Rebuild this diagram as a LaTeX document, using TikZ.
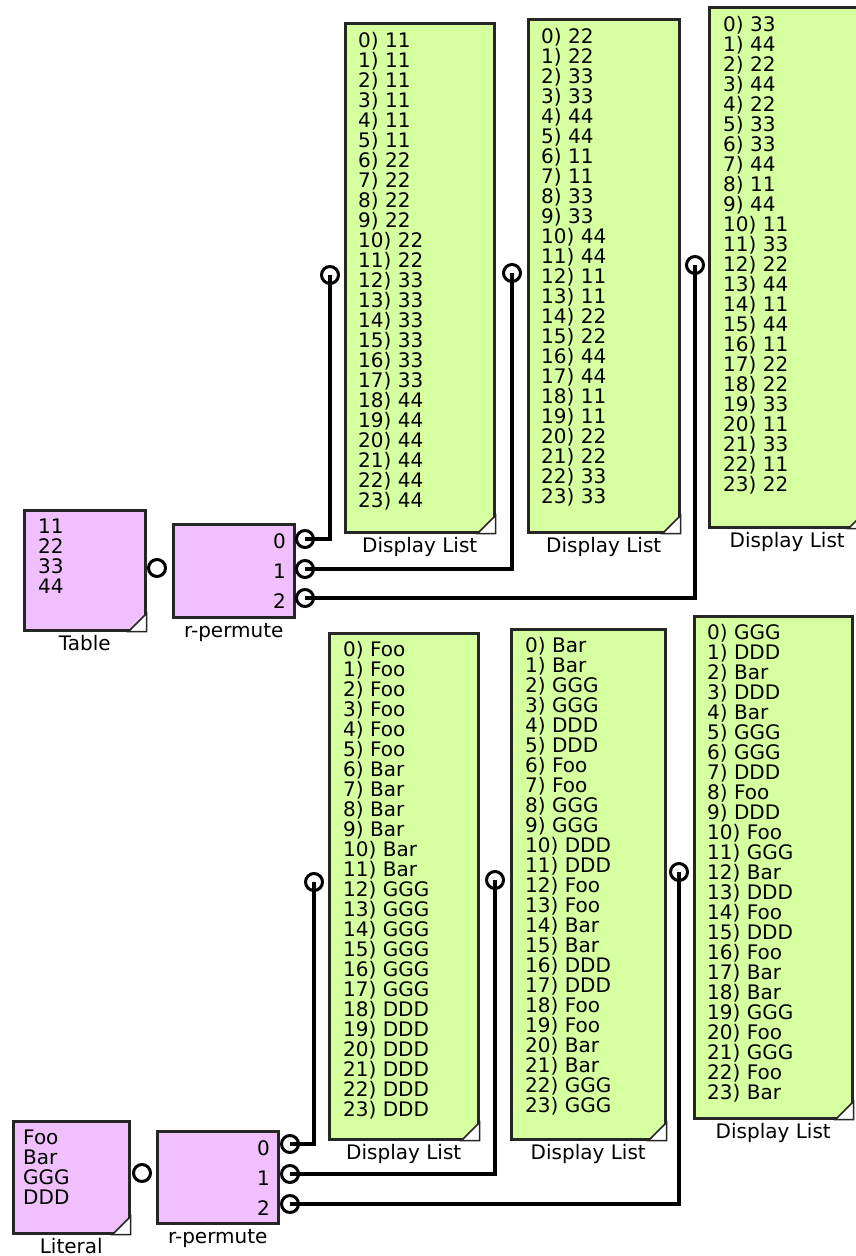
\documentclass[tikz,border=0pt]{standalone}
\usepackage{fontspec}
\setmainfont{DejaVu Sans}
\usetikzlibrary{positioning, calc}
\definecolor{blockpink}{RGB}{240,192,252}
\definecolor{listgreen}{RGB}{214,255,160}
\newcommand{\dogear}[1]{\filldraw[corner] ($(#1.south east)+(-18,0)$) -- ($(#1.south east)+(0,-18)$) -- (#1.south east) -- cycle;}

\begin{document}
\begin{tikzpicture}[x=1pt, y=-1pt, node distance=5pt]
    % Styles
    \tikzstyle{block} = [rectangle, draw=black!85, line width=2.5pt, fill=blockpink, inner sep=0pt, anchor=north west]
    \tikzstyle{listbox} = [rectangle, draw=black!85, line width=2.5pt, fill=listgreen, inner sep=0pt, anchor=north west]
    \tikzstyle{listtext} = [anchor=north west, inner sep=0pt, align=left, font=\fontsize{20}{20}\selectfont]
    \tikzstyle{caption} = [inner sep=0pt, text height=14pt, text depth=3pt, font=\fontsize{20}{22}\selectfont]
    \tikzstyle{portnum} = [anchor=east, inner sep=0pt, font=\fontsize{20}{20}\selectfont]
    \tikzstyle{port} = [circle, draw, line width=3pt, fill=white, minimum size=17pt, inner sep=0pt]
    \tikzstyle{wire} = [line width=3.5pt]
    \tikzstyle{corner} = [fill=white, draw=black!85, line width=1.5pt]

    \useasboundingbox (0,0) rectangle (855,1256);

    % Upper blocks
    \node [block, minimum width=121pt, minimum height=120pt] (table) at (23,509) {};
    \node [listtext] (tabletext) at ($(table.north west)+(15,10)$) {11\\22\\33\\44};
    \node [caption, below=of table] (tablelabel) {Table};
    \node [block, minimum width=121pt, minimum height=93pt] (perma) at (172,523) {};
    \node [caption, below=of perma] (permalabel) {r-permute};
    \node [portnum] (numa0) at (286,541) {0};
    \node [portnum] (numa1) at (286,571) {1};
    \node [portnum] (numa2) at (286,601) {2};

    \node [listbox, minimum width=149pt, minimum height=509pt] (lista) at (344,22) {};
    \node [listtext] (listatext) at ($(lista.north west)+(14,10)$) {0) 11\\1) 11\\2) 11\\3) 11\\4) 11\\5) 11\\6) 22\\7) 22\\8) 22\\9) 22\\10) 22\\11) 22\\12) 33\\13) 33\\14) 33\\15) 33\\16) 33\\17) 33\\18) 44\\19) 44\\20) 44\\21) 44\\22) 44\\23) 44};
    \node [caption, below=of lista] (listalabel) {Display List};
    \node [listbox, minimum width=151pt, minimum height=513pt] (listb) at (527,18) {};
    \node [listtext] (listbtext) at ($(listb.north west)+(14,10)$) {0) 22\\1) 22\\2) 33\\3) 33\\4) 44\\5) 44\\6) 11\\7) 11\\8) 33\\9) 33\\10) 44\\11) 44\\12) 11\\13) 11\\14) 22\\15) 22\\16) 44\\17) 44\\18) 11\\19) 11\\20) 22\\21) 22\\22) 33\\23) 33};
    \node [caption, below=of listb] (listblabel) {Display List};
    \node [listbox, minimum width=156pt, minimum height=520pt] (listc) at (708,6) {};
    \node [listtext] (listctext) at ($(listc.north west)+(15,10)$) {0) 33\\1) 44\\2) 22\\3) 44\\4) 22\\5) 33\\6) 33\\7) 44\\8) 11\\9) 44\\10) 11\\11) 33\\12) 22\\13) 44\\14) 11\\15) 44\\16) 11\\17) 22\\18) 22\\19) 33\\20) 11\\21) 33\\22) 11\\23) 22};
    \node [caption, below=of listc] (listclabel) {Display List};

    % Lower blocks
    \node [block, minimum width=116pt, minimum height=112pt] (literal) at (12,1120) {};
    \node [listtext] (literaltext) at ($(literal.north west)+(11,10)$) {Foo\\Bar\\GGG\\DDD};
    \node [caption, below=of literal] (literallabel) {Literal};
    \node [block, minimum width=121pt, minimum height=92pt] (permb) at (156,1130) {};
    \node [caption, below=of permb] (permblabel) {r-permute};
    \node [portnum] (numb0) at (270,1148) {0};
    \node [portnum] (numb1) at (270,1178) {1};
    \node [portnum] (numb2) at (270,1208) {2};

    \node [listbox, minimum width=149pt, minimum height=506pt] (listd) at (328,632) {};
    \node [listtext] (listdtext) at ($(listd.north west)+(15,9)$) {0) Foo\\1) Foo\\2) Foo\\3) Foo\\4) Foo\\5) Foo\\6) Bar\\7) Bar\\8) Bar\\9) Bar\\10) Bar\\11) Bar\\12) GGG\\13) GGG\\14) GGG\\15) GGG\\16) GGG\\17) GGG\\18) DDD\\19) DDD\\20) DDD\\21) DDD\\22) DDD\\23) DDD};
    \node [caption, below=of listd] (listdlabel) {Display List};
    \node [listbox, minimum width=154pt, minimum height=510pt] (liste) at (510,628) {};
    \node [listtext] (listetext) at ($(liste.north west)+(15,9)$) {0) Bar\\1) Bar\\2) GGG\\3) GGG\\4) DDD\\5) DDD\\6) Foo\\7) Foo\\8) GGG\\9) GGG\\10) DDD\\11) DDD\\12) Foo\\13) Foo\\14) Bar\\15) Bar\\16) DDD\\17) DDD\\18) Foo\\19) Foo\\20) Bar\\21) Bar\\22) GGG\\23) GGG};
    \node [caption, below=of liste] (listelabel) {Display List};
    \node [listbox, minimum width=158pt, minimum height=502pt] (listf) at (693,615) {};
    \node [listtext] (listftext) at ($(listf.north west)+(14,9)$) {0) GGG\\1) DDD\\2) Bar\\3) DDD\\4) Bar\\5) GGG\\6) GGG\\7) DDD\\8) Foo\\9) DDD\\10) Foo\\11) GGG\\12) Bar\\13) DDD\\14) Foo\\15) DDD\\16) Foo\\17) Bar\\18) Bar\\19) GGG\\20) Foo\\21) GGG\\22) Foo\\23) Bar};
    \node [caption, below=of listf] (listflabel) {Display List};

    % Corners
    \dogear{table} \dogear{lista} \dogear{listb} \dogear{listc}
    \dogear{literal} \dogear{listd} \dogear{liste} \dogear{listf}

    % Ports
    \node [port] (tableout) at (157,568) {};
    \node [port] (outa0) at (305,539) {};
    \node [port] (outa1) at (305,569) {};
    \node [port] (outa2) at (305,598) {};
    \node [port] (ina) at (330,275) {};
    \node [port] (inb) at (512,273) {};
    \node [port] (inc) at (695,265) {};
    \node [port] (literalout) at (142,1173) {};
    \node [port] (outb0) at (290,1144) {};
    \node [port] (outb1) at (290,1174) {};
    \node [port] (outb2) at (290,1204) {};
    \node [port] (ind) at (314,882) {};
    \node [port] (ine) at (495,880) {};
    \node [port] (inf) at (679,872) {};

    % Wires
    \draw [wire] (outa0.center) -| (ina.center);
    \draw [wire] (outa1.center) -| (inb.center);
    \draw [wire] (outa2.center) -| (inc.center);
    \draw [wire] (outb0.center) -| (ind.center);
    \draw [wire] (outb1.center) -| (ine.center);
    \draw [wire] (outb2.center) -| (inf.center);
\end{tikzpicture}
\end{document}
